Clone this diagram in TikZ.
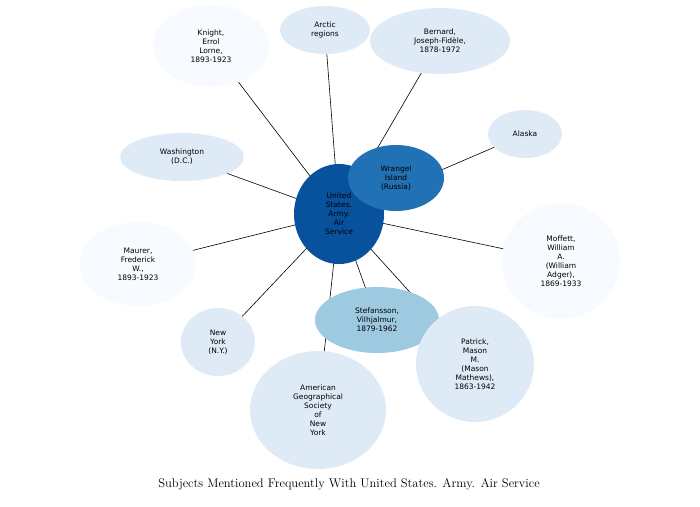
\documentclass[tikz,border=0pt]{standalone}
\usepackage{fontspec}
\setsansfont{DejaVu Sans}
\usetikzlibrary{shapes.geometric,backgrounds}
\definecolor{c0}{HTML}{F7FBFF}
\definecolor{c1}{HTML}{DEEBF7}
\definecolor{c2}{HTML}{9ECAE1}
\definecolor{c3}{HTML}{2171B5}
\definecolor{c4}{HTML}{08519C}
\tikzset{bub/.style={ellipse,inner sep=0pt,align=center,font=\sffamily\fontsize{7.5}{9}\selectfont,minimum width=#1},
 edge/.style={draw=black,line width=0.6pt}}
\begin{document}
\begin{tikzpicture}[x=1pt,y=-1pt]
\useasboundingbox (0,0) rectangle (700,506);
\node[bub=90pt,minimum height=100pt,fill=c4] (c) at (339,214) {United\\States.\\Army.\\Air\\Service};
\node[bub=116pt,minimum height=82pt,fill=c0] (kn) at (211,46) {Knight,\\Errol\\Lorne,\\1893-1923};
\node[bub=90pt,minimum height=48pt,fill=c1] (ar) at (325,30) {Arctic\\regions};
\node[bub=140pt,minimum height=66pt,fill=c1] (be) at (440,41) {Bernard,\\Joseph-Fidèle,\\1878-1972};
\node[bub=74pt,minimum height=48pt,fill=c1] (al) at (525,134) {Alaska};
\node[bub=96pt,minimum height=66pt,fill=c3] (wr) at (396,178) {Wrangel\\Island\\(Russia)};
\node[bub=124pt,minimum height=48pt,fill=c1] (wa) at (182,157) {Washington\\(D.C.)};
\node[bub=118pt,minimum height=116pt,fill=c0] (mo) at (561,261) {Moffett,\\William\\A.\\(William\\Adger),\\1869-1933};
\node[bub=116pt,minimum height=84pt,fill=c0] (ma) at (138,264) {Maurer,\\Frederick\\W.,\\1893-1923};
\node[bub=74pt,minimum height=68pt,fill=c1] (ny) at (218,342) {New\\York\\(N.Y.)};
\node[bub=124pt,minimum height=66pt,fill=c2] (st) at (377,320) {Stefansson,\\Vilhjalmur,\\1879-1962};
\node[bub=118pt,minimum height=116pt,fill=c1] (pa) at (475,364) {Patrick,\\Mason\\M.\\(Mason\\Mathews),\\1863-1942};
\node[bub=136pt,minimum height=118pt,fill=c1] (ag) at (318,410) {American\\Geographical\\Society\\of\\New\\York};
\begin{scope}[on background layer]
\foreach \n in {kn,ar,be,al,wr,wa,mo,ma,ny,st,pa,ag} \draw[edge] (c.center) -- (\n.center);
\end{scope}
\node[font=\fontsize{12.5}{14}\selectfont] (t) at (349,484) {Subjects Mentioned Frequently With United States. Army. Air Service};
\end{tikzpicture}
\end{document}
